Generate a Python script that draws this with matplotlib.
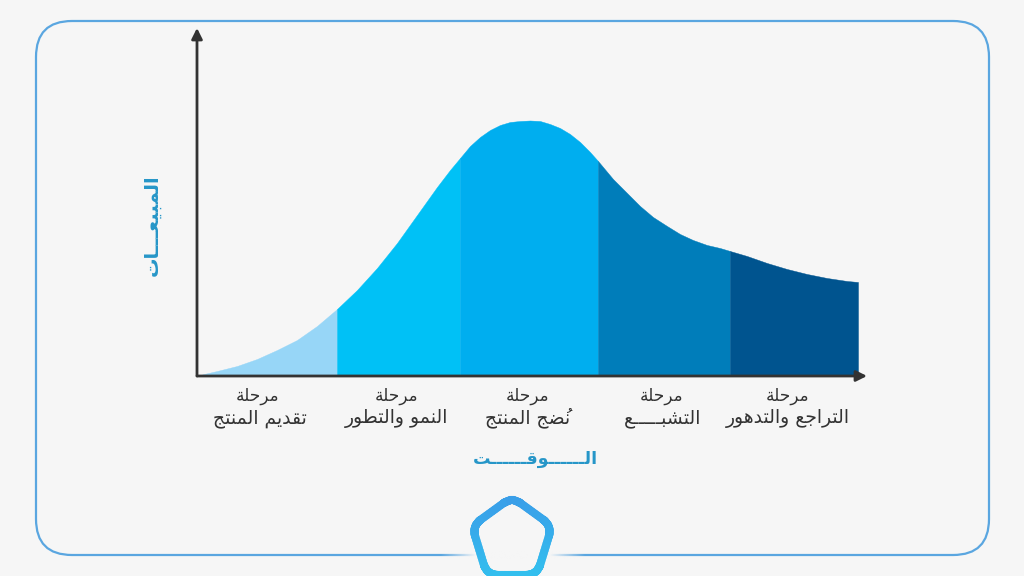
import matplotlib
matplotlib.use("Agg")
import matplotlib.pyplot as plt
import numpy as np
from matplotlib.collections import LineCollection
from matplotlib.patches import FancyBboxPatch
from matplotlib.path import Path

# curve: time (px from y axis) and sales (px above x axis)
time_vals = [0, 7, 20, 40, 60, 80, 100, 120, 140, 160, 180, 200, 220, 240, 253, 263, 273, 283, 293,
             303, 313, 323, 333, 343, 353, 363, 373, 383, 393, 401, 416, 430, 443, 456, 470,
             483, 496, 510, 523, 533, 550, 570, 590, 610, 630, 650, 661]
sales_vals = [0, 2, 5, 10, 17, 26, 36, 50, 67, 86, 108, 133, 161, 189, 206, 218, 230, 239, 246,
              251, 254, 255, 255.5, 255, 252, 248, 242, 234, 224, 215, 197, 183, 170, 159, 150,
              142, 136, 131, 128, 125, 120, 113, 107, 102, 98, 95, 94]

stage_edges = [0, 140, 263, 401, 533, 661]
stage_colors = ["#97D6F7", "#00C1F6", "#00AEEF", "#007DBA", "#00548F"]

stage_top = ["مرحلة"] * 5
stage_bottom = ["تقديم المنتج", "النمو والتطور", "نُضج المنتج", "التشبـــــع", "التراجع والتدهور"]
xlabel_txt = "الــــــوقــــــت"
ylabel_txt = "المبيعـــات"

BG = "#F6F6F6"
DARK = "#333333"
BLUE = "#2696C8"

# matplotlib has no arabic shaping, so join the letters by hand (isolated, final, initial, medial)
FORMS = {
    "ا": (0xFE8D, 0xFE8E), "ب": (0xFE8F, 0xFE90, 0xFE91, 0xFE92), "ة": (0xFE93, 0xFE94),
    "ت": (0xFE95, 0xFE96, 0xFE97, 0xFE98), "ج": (0xFE9D, 0xFE9E, 0xFE9F, 0xFEA0),
    "ح": (0xFEA1, 0xFEA2, 0xFEA3, 0xFEA4), "د": (0xFEA9, 0xFEAA), "ر": (0xFEAD, 0xFEAE),
    "ش": (0xFEB5, 0xFEB6, 0xFEB7, 0xFEB8), "ض": (0xFEBD, 0xFEBE, 0xFEBF, 0xFEC0),
    "ط": (0xFEC1, 0xFEC2, 0xFEC3, 0xFEC4), "ع": (0xFEC9, 0xFECA, 0xFECB, 0xFECC),
    "ق": (0xFED5, 0xFED6, 0xFED7, 0xFED8), "ل": (0xFEDD, 0xFEDE, 0xFEDF, 0xFEE0),
    "م": (0xFEE1, 0xFEE2, 0xFEE3, 0xFEE4), "ن": (0xFEE5, 0xFEE6, 0xFEE7, 0xFEE8),
    "ه": (0xFEE9, 0xFEEA, 0xFEEB, 0xFEEC), "و": (0xFEED, 0xFEEE),
    "ي": (0xFEF1, 0xFEF2, 0xFEF3, 0xFEF4),
}
KASHIDA = "ـ"
MARK = "ُ"


def shape(txt):
    mark_at = txt.index(MARK) - 1 if MARK in txt else -1
    letters = txt.replace(MARK, "")
    out = []
    for i, c in enumerate(letters):
        if c not in FORMS:
            out.append(c)
        else:
            prev = letters[i - 1] if i > 0 else " "
            nxt = letters[i + 1] if i < len(letters) - 1 else " "
            joins_prev = prev == KASHIDA or (prev in FORMS and len(FORMS[prev]) == 4)
            joins_next = nxt == KASHIDA or nxt in FORMS
            f = FORMS[c]
            if len(f) == 2:
                out.append(chr(f[1] if joins_prev else f[0]))
            elif joins_prev and joins_next:
                out.append(chr(f[3]))
            elif joins_prev:
                out.append(chr(f[1]))
            elif joins_next:
                out.append(chr(f[2]))
            else:
                out.append(chr(f[0]))
        if i == mark_at:
            out.append(MARK)
    return "".join(out[::-1])


fig = plt.figure(figsize=(10.24, 5.76), dpi=100, facecolor=BG)

# background layer in pixel coords for frame, logo and labels
bg = fig.add_axes([0, 0, 1, 1])
bg.set_xlim(0, 1024)
bg.set_ylim(576, 0)
bg.axis("off")

frame = FancyBboxPatch((36, 21), 953, 534, boxstyle="round,pad=0,rounding_size=36",
                       fc="none", ec="#5AA6E0", lw=1.6)
bg.add_patch(frame)

# bottom line fades out near the logo
fade = np.array([np.linspace(0, 1, 30).tolist() + [1] * 60 + np.linspace(1, 0, 30).tolist()])
rgba = np.zeros((1, 120, 4))
rgba[..., :3] = matplotlib.colors.to_rgb(BG)
rgba[..., 3] = fade
bg.imshow(rgba, extent=(440, 586, 559, 551), aspect="auto", zorder=3, interpolation="bilinear")
bg.set_xlim(0, 1024)
bg.set_ylim(576, 0)

# logo, rounded pentagon with a vertical colour shift
corners = [(512, 497), (552, 526), (537, 575), (487, 575), (472, 526)]
verts, codes = [], []
n = len(corners)
for i in range(n):
    p0 = np.array(corners[i - 1], float)
    p1 = np.array(corners[i], float)
    p2 = np.array(corners[(i + 1) % n], float)
    a = p1 + (p0 - p1) / np.linalg.norm(p0 - p1) * 11
    b = p1 + (p2 - p1) / np.linalg.norm(p2 - p1) * 11
    verts += [a, p1, b]
    codes += [Path.MOVETO if i == 0 else Path.LINETO, Path.CURVE3, Path.CURVE3]
verts.append(verts[0])
codes.append(Path.LINETO)
outline = Path(verts, codes).interpolated(1).to_polygons(closed_only=False)[0]
pts = []
for s, e in zip(outline[:-1], outline[1:]):
    pts += [s + (e - s) * t for t in np.linspace(0, 1, 8, endpoint=False)]
pts = np.array(pts)
segs = np.stack([pts, np.roll(pts, -1, axis=0)], axis=1)
c0 = np.array(matplotlib.colors.to_rgb("#3A9DE8"))
c1 = np.array(matplotlib.colors.to_rgb("#33BFEE"))
seg_cols = [c0 + (c1 - c0) * np.clip((p[0][1] - 497) / 79, 0, 1) for p in segs]
bg.add_collection(LineCollection(segs, colors=seg_cols, linewidths=5.8, capstyle="round", zorder=4))

# labels
top_x = [258, 397, 528, 662, 788]
bottom_x = [260, 397, 528, 663, 788]
for tx, bx, t, b in zip(top_x, bottom_x, stage_top, stage_bottom):
    bg.text(tx, 396, shape(t), ha="center", va="center", fontsize=12.2, color=DARK,
            family="DejaVu Sans")
    bg.text(bx, 418, shape(b), ha="center", va="center", fontsize=13.5, color=DARK,
            family="DejaVu Sans")
bg.text(535, 459, shape(xlabel_txt), ha="center", va="center", fontsize=12.5, color=BLUE,
        weight="bold", family="DejaVu Sans")
bg.text(152, 225, shape(ylabel_txt), ha="center", va="center", fontsize=14, color=BLUE,
        weight="bold", rotation=90, family="DejaVu Sans")

# the chart itself
ax = fig.add_axes([197 / 1024, 200 / 576, 670 / 1024, 348 / 576])
ax.patch.set_alpha(0)
ax.set_xlim(0, 670)
ax.set_ylim(0, 348)
ax.set_xticks([])
ax.set_yticks([])
for sp in ax.spines.values():
    sp.set_visible(False)

time_arr = np.array(time_vals)
sales_arr = np.array(sales_vals)
for i, col in enumerate(stage_colors):
    mask = (time_arr >= stage_edges[i]) & (time_arr <= stage_edges[i + 1])
    ax.fill_between(time_arr[mask], 0, sales_arr[mask], color=col, lw=0.3)

arrow = dict(arrowstyle="-|>", color=DARK, lw=2, mutation_scale=16, shrinkA=0, shrinkB=0)
ax.annotate("", xy=(0, 1), xytext=(0, 0), xycoords="axes fraction", arrowprops=arrow)
ax.annotate("", xy=(1, 0), xytext=(0, 0), xycoords="axes fraction", arrowprops=arrow)

fig.savefig("out.png", dpi=100, facecolor=BG)
